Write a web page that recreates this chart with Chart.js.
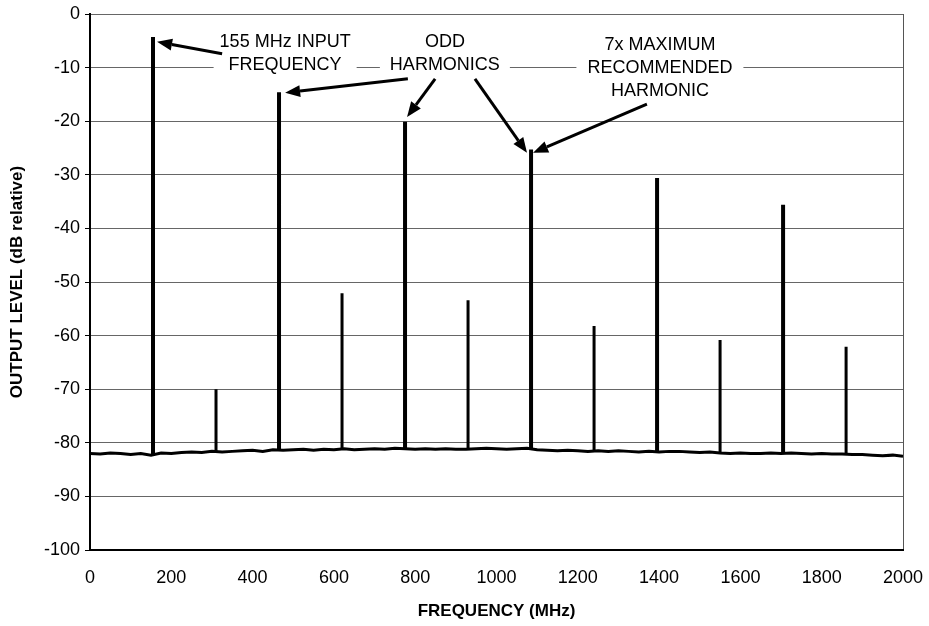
<!DOCTYPE html>
<html>
<head>
<meta charset="utf-8">
<script src="https://cdn.jsdelivr.net/npm/chart.js@4.4.0/dist/chart.umd.min.js"></script>
<style>
  body { margin:0; background:#fff; }
  #wrap { width:929px; height:626px; }
</style>
</head>
<body>
<div id="wrap"><canvas id="myChart" width="929" height="626"></canvas></div>
<script>
// noise floor, read every 25 MHz
var floorFreq = [];
for (var f = 0; f <= 2000; f += 25) floorFreq.push(f);
var floorLevel = [
  -82.0,-82.1,-81.9,-82.0,-82.2,-82.0,-82.3,-81.9,-82.0,-81.8,
  -81.7,-81.8,-81.6,-81.7,-81.6,-81.5,-81.4,-81.6,-81.3,-81.4,
  -81.3,-81.2,-81.4,-81.2,-81.3,-81.1,-81.3,-81.2,-81.1,-81.2,
  -81.0,-81.1,-81.2,-81.1,-81.2,-81.1,-81.2,-81.2,-81.1,-81.0,
  -81.1,-81.2,-81.1,-81.0,-81.3,-81.4,-81.5,-81.4,-81.5,-81.6,
  -81.5,-81.6,-81.5,-81.6,-81.7,-81.6,-81.7,-81.6,-81.6,-81.7,
  -81.8,-81.7,-81.9,-82.0,-81.9,-82.0,-82.0,-81.9,-82.0,-81.9,
  -82.0,-82.1,-82.0,-82.1,-82.1,-82.2,-82.2,-82.3,-82.4,-82.3,
  -82.5
];

// fundamental + odd harmonics (thick) and even harmonics (thin)
var oddFreq  = [155, 465, 775, 1085, 1395, 1705];
var oddLevel = [-4.3, -14.6, -20.1, -25.3, -30.6, -35.6];
var evenFreq  = [310, 620, 930, 1240, 1550, 1860];
var evenLevel = [-70.0, -52.1, -53.4, -58.2, -60.8, -62.1];

var xTicks = [0,200,400,600,800,1000,1200,1400,1600,1800,2000];
var yTicks = [0,-10,-20,-30,-40,-50,-60,-70,-80,-90,-100];

var notes = [
  {lines:['155 MHz INPUT','FREQUENCY'], x:480, y:-5.2, pad:6},
  {lines:['ODD','HARMONICS'], x:873, y:-5.2, pad:10},
  {lines:['7x MAXIMUM','RECOMMENDED','HARMONIC'], x:1402, y:-5.8, pad:11}
];
// [fromX, fromY, toX, toY]
var arrows = [
  [325, -7.4, 165, -5.2],
  [782, -12.1, 480, -14.7],
  [849, -12.1, 780, -19.2],
  [947, -12.1, 1075, -25.9],
  [1370, -16.8, 1090, -25.9]
];

function floorAt(x){
  var i = Math.round(x/25);
  return floorLevel[i];
}
function spikes(freqs, levels){
  var pts = [];
  freqs.forEach(function(f,i){
    pts.push({x:f, y:floorAt(f)});
    pts.push({x:f, y:levels[i]});
    pts.push({x:f, y:null});
  });
  return pts;
}

var fontFam = '"Liberation Sans", Arial, sans-serif';
Chart.defaults.font.family = fontFam;
Chart.defaults.color = '#000';

var notePlugin = {
  id:'notes',
  afterDraw:function(chart){
    var ctx = chart.ctx, xs = chart.scales.x, ys = chart.scales.y;
    ctx.save();
    ctx.font = '18px ' + fontFam;
    ctx.textAlign = 'center';
    ctx.textBaseline = 'middle';
    notes.forEach(function(n){
      var cx = xs.getPixelForValue(n.x), cy = ys.getPixelForValue(n.y);
      var w = 0;
      n.lines.forEach(function(l){ w = Math.max(w, ctx.measureText(l).width); });
      ctx.fillStyle = '#fff';
      ctx.fillRect(cx - w/2 - n.pad, cy - 11, w + 2*n.pad, 23*(n.lines.length-1) + 22);
      ctx.fillStyle = '#000';
      n.lines.forEach(function(l,i){ ctx.fillText(l, cx, cy + i*23); });
    });
    ctx.strokeStyle = '#000';
    ctx.fillStyle = '#000';
    ctx.lineWidth = 3;
    arrows.forEach(function(a){
      var x1 = xs.getPixelForValue(a[0]), y1 = ys.getPixelForValue(a[1]);
      var x2 = xs.getPixelForValue(a[2]), y2 = ys.getPixelForValue(a[3]);
      var ang = Math.atan2(y2-y1, x2-x1);
      var len = 15, hw = 6;
      var bx = x2 - len*Math.cos(ang), by = y2 - len*Math.sin(ang);
      ctx.beginPath();
      ctx.moveTo(x1,y1);
      ctx.lineTo(bx,by);
      ctx.stroke();
      ctx.beginPath();
      ctx.moveTo(x2,y2);
      ctx.lineTo(bx + hw*Math.sin(ang), by - hw*Math.cos(ang));
      ctx.lineTo(bx - hw*Math.sin(ang), by + hw*Math.cos(ang));
      ctx.closePath();
      ctx.fill();
    });
    ctx.restore();
  }
};

var ctx = document.getElementById('myChart').getContext('2d');
var myChart = new Chart(ctx, {
  type:'line',
  data:{
    datasets:[
      {
        data: floorFreq.map(function(f,i){ return {x:f, y:floorLevel[i]}; }),
        borderColor:'#000', borderWidth:3, pointRadius:0, tension:0
      },
      {
        data: spikes(evenFreq, evenLevel),
        borderColor:'#000', borderWidth:3, pointRadius:0, spanGaps:false
      },
      {
        data: spikes(oddFreq, oddLevel),
        borderColor:'#000', borderWidth:4, pointRadius:0, spanGaps:false
      }
    ]
  },
  options:{
    responsive:false,
    animation:false,
    layout:{ padding:{ left:0, top:14, right:26, bottom:0 } },
    plugins:{ legend:{display:false}, tooltip:{enabled:false} },
    scales:{
      x:{
        type:'linear', min:0, max:2000,
        afterBuildTicks:function(s){ s.ticks = xTicks.map(function(v){ return {value:v}; }); },
        afterFit:function(s){ s.height = 76; s.paddingLeft = 0; s.paddingRight = 0; },
        ticks:{ font:{size:18}, padding:17, maxRotation:0, callback:function(v){ return String(v); } },
        grid:{
          drawTicks:false,
          color:function(c){ return c.tick && c.tick.value === 2000 ? '#555' : 'rgba(0,0,0,0)'; }
        },
        border:{ color:'#000', width:2 },
        title:{ display:true, text:'FREQUENCY (MHz)', font:{size:17, weight:'bold'}, padding:{top:0, bottom:4} }
      },
      y:{
        min:-100, max:0,
        afterBuildTicks:function(s){ s.ticks = yTicks.map(function(v){ return {value:v}; }); },
        afterFit:function(s){ s.width = 90; s.paddingTop = 0; s.paddingBottom = 0; },
        ticks:{ font:{size:18}, padding:5 },
        grid:{ color:'#666', lineWidth:1, tickLength:5, tickColor:'#000' },
        border:{ color:'#000', width:2 },
        title:{ display:true, text:'OUTPUT LEVEL (dB relative)', font:{size:17, weight:'bold'}, padding:{top:7, bottom:0} }
      }
    }
  },
  plugins:[notePlugin]
});
</script>
</body>
</html>
